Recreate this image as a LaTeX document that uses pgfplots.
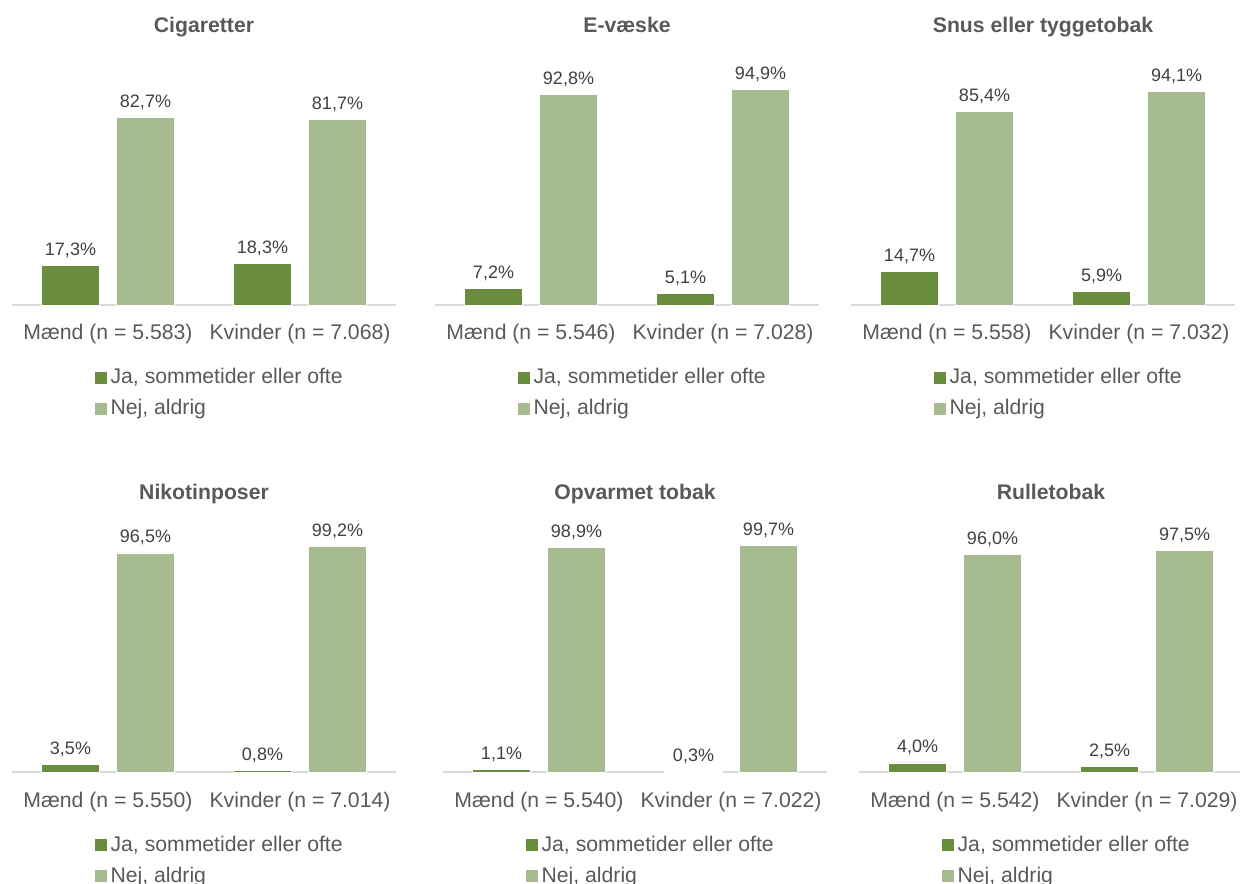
\documentclass[border=0pt]{standalone}
\usepackage{pgfplots}
\pgfplotsset{compat=1.18}
\usepackage{fontspec}
\setmainfont{Liberation Sans}
\definecolor{ja}{RGB}{106,140,63}
\definecolor{nej}{RGB}{167,187,145}
\definecolor{txt}{RGB}{89,89,89}
\definecolor{lbl}{RGB}{64,64,64}
\definecolor{axln}{RGB}{217,217,217}
\newcommand{\fs}{\fontsize{10.6}{12.7}\selectfont}
\pgfplotsset{
 panel/.style={
  scale only axis, width=192pt, height=113.5pt,
  anchor=south west,
  xmin=-0.5, xmax=1.5, ymin=0, ymax=100,
  axis x line*=bottom, axis y line=none,
  x axis line style={draw=axln, line width=0.75pt},
  xtick={0,1}, major tick length=0pt, ytick=\empty,
  xticklabel style={font=\fs, text=txt, anchor=base, yshift=-17.5pt, inner sep=0pt},
  ybar=8.5pt, bar width=29pt, clip=false,
  title style={at={(0.5,1)}, anchor=base, yshift=16.5pt, font=\fs\bfseries, text=txt, inner sep=0pt},
  legend cell align=left,
  legend style={draw=none, fill=none, inner sep=0pt, outer sep=0pt,
    at={(0,0)}, anchor=north west, xshift=41.5pt, yshift=-31.5pt,
    row sep=5pt, column sep=2pt,
    nodes={inner sep=0pt, text height=8pt, text depth=2.5pt, font=\fs, text=txt}},
  legend image code/.code={\fill[##1,draw=none] (0pt,-2.75pt) rectangle (5.8pt,3.05pt);},
  nodes near coords={\pgfmathprintnumber[fixed,fixed zerofill,precision=1,use comma,assume math mode=true]{\pgfplotspointmeta}\%},
  every node near coord/.append style={font=\fontsize{9}{10.8}\selectfont, text=lbl, anchor=base, yshift=5pt, inner sep=0pt, draw=none},
 },
 jastyle/.style={fill=ja, draw=white, line width=0.4pt},
 nejstyle/.style={fill=nej, draw=white, line width=0.4pt},
}
\begin{document}
\begin{tikzpicture}
\useasboundingbox (0,0) rectangle (620pt,441.5pt);

\begin{axis}[panel, at={(6pt,289pt)}, title={Cigaretter},
  xticklabels={Mænd (n = 5.583), Kvinder (n = 7.068)}]
\addplot[jastyle] coordinates {(0,17.3) (1,18.3)};
\addplot[nejstyle] coordinates {(0,82.7) (1,81.7)};
\legend{{Ja, sommetider eller ofte},{Nej, aldrig}}
\end{axis}

\begin{axis}[panel, at={(217.5pt,289pt)}, title={E-væske},
  xticklabels={Mænd (n = 5.546), Kvinder (n = 7.028)}]
\addplot[jastyle] coordinates {(0,7.2) (1,5.1)};
\addplot[nejstyle] coordinates {(0,92.8) (1,94.9)};
\legend{{Ja, sommetider eller ofte},{Nej, aldrig}}
\end{axis}

\begin{axis}[panel, at={(425.5pt,289pt)}, title={Snus eller tyggetobak},
  xticklabels={Mænd (n = 5.558), Kvinder (n = 7.032)}]
\addplot[jastyle] coordinates {(0,14.7) (1,5.9)};
\addplot[nejstyle] coordinates {(0,85.4) (1,94.1)};
\legend{{Ja, sommetider eller ofte},{Nej, aldrig}}
\end{axis}

\begin{axis}[panel, at={(6pt,55.5pt)}, title={Nikotinposer},
  xticklabels={Mænd (n = 5.550), Kvinder (n = 7.014)}]
\addplot[jastyle] coordinates {(0,3.5) (1,0.8)};
\addplot[nejstyle] coordinates {(0,96.5) (1,99.2)};
\legend{{Ja, sommetider eller ofte},{Nej, aldrig}}
\end{axis}

\begin{axis}[panel, at={(221.5pt,55.5pt)}, title={Opvarmet tobak},
  xticklabels={Mænd (n = 5.540), Kvinder (n = 7.022)}]
\addplot[jastyle] coordinates {(0,1.1) (1,0.3)};
\addplot[nejstyle] coordinates {(0,98.9) (1,99.7)};
\legend{{Ja, sommetider eller ofte},{Nej, aldrig}}
\end{axis}

\begin{axis}[panel, at={(429.5pt,55.5pt)}, title={Rulletobak},
  xticklabels={Mænd (n = 5.542), Kvinder (n = 7.029)}]
\addplot[jastyle] coordinates {(0,4.0) (1,2.5)};
\addplot[nejstyle] coordinates {(0,96.0) (1,97.5)};
\legend{{Ja, sommetider eller ofte},{Nej, aldrig}}
\end{axis}
\end{tikzpicture}
\end{document}
